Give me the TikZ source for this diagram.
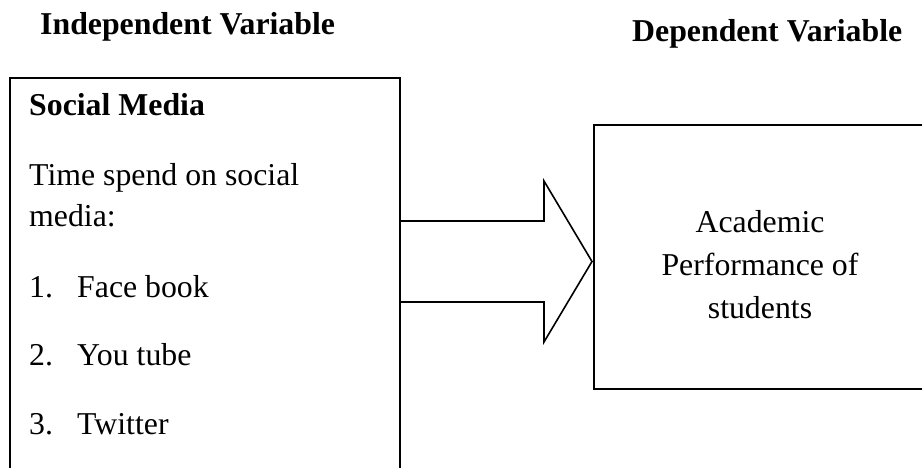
\documentclass[tikz,border=0pt]{standalone}
\usepackage{fontspec}
\setmainfont{Liberation Serif}
\begin{document}
\begin{tikzpicture}[x=1pt,y=1pt,
  boxstyle/.style={draw=black, line width=1.6pt, inner sep=0pt, fill=none},
  txt/.style={inner sep=0pt, font=\fontsize{31.8}{38}\selectfont},
  btxt/.style={txt, font=\fontsize{31.8}{38}\selectfont\bfseries},
  arrowstyle/.style={draw=black, line width=1.6pt, line join=miter}]
\useasboundingbox (0,0) rectangle (922,-468);
\clip (0,0) rectangle (922,-468);
% headers
\node[btxt, anchor=base west] (hdrind) at (40,-35) {Independent Variable};
\node[btxt, anchor=base west] (hdrdep) at (632,-42) {Dependent Variable};
% boxes
\node[boxstyle, anchor=north west, minimum width=390pt, minimum height=420pt] (smbox) at (9,-77) {};
\node[boxstyle, anchor=north west, minimum width=360pt, minimum height=264pt] (apbox) at (593,-124) {};
% left texts
\node[btxt, anchor=base west] (smtitle) at (29,-116) {Social Media};
\node[txt, anchor=base west] (time1) at (29,-186) {Time spend on social};
\node[txt, anchor=base west] (time2) at (29,-227) {media:};
\node[txt, anchor=base west] (n1) at (29,-297) {1.};
\node[txt, anchor=base west] (i1) at (77,-297) {Face book};
\node[txt, anchor=base west] (n2) at (29,-365) {2.};
\node[txt, anchor=base west] (i2) at (77,-365) {You tube};
\node[txt, anchor=base west] (n3) at (29,-434) {3.};
\node[txt, anchor=base west] (i3) at (77,-434) {Twitter};
% right texts
\node[txt, anchor=base] (ap1) at (760,-233) {Academic};
\node[txt, anchor=base] (ap2) at (760,-276) {Performance of};
\node[txt, anchor=base] (ap3) at (760,-318) {students};
% block arrow
\coordinate (atop) at (399,-221);
\coordinate (abot) at (399,-302);
\coordinate (htop) at (544,-181);
\coordinate (hbot) at (544,-342);
\coordinate (tip) at (592,-261.5);
\draw[arrowstyle] (atop) -- (544,-221) -- (htop) -- (tip) -- (hbot) -- (544,-302) -- (abot);
\end{tikzpicture}
\end{document}
